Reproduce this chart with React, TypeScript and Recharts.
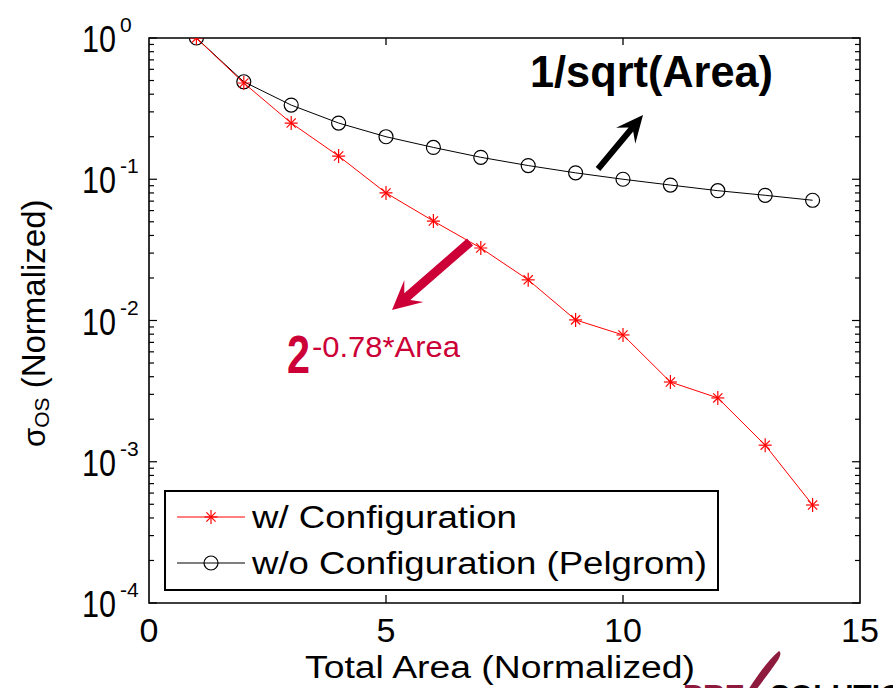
import React from "react";
import { LineChart, Line, XAxis, YAxis, ReferenceArea, Legend } from "recharts";

// total area (normalized) and sigma_OS (normalized)
const AREA = [1, 2, 3, 4, 5, 6, 7, 8, 9, 10, 11, 12, 13, 14];
const WITH_CONFIG = [1, 0.48, 0.25, 0.146, 0.08, 0.0506, 0.0326, 0.0194, 0.0101, 0.0079, 0.00367, 0.00283, 0.00131, 0.000494];
const PELGROM = [1, 0.49, 0.335, 0.25, 0.2, 0.168, 0.143, 0.125, 0.111, 0.1, 0.091, 0.083, 0.077, 0.071];

const X_TICKS = [0, 5, 10, 15];
const Y_DECADES = [1e-4, 1e-3, 1e-2, 1e-1, 1];
const Y_EXPONENTS = ["-4", "-3", "-2", "-1", "0"];
const MINOR_STEPS = [2, 3, 4, 5, 6, 7, 8, 9];

const SERIES = [
  { key: "withConfig", name: "w/ Configuration", color: "#ff0000", marker: "star", width: 265 },
  { key: "pelgrom", name: "w/o Configuration (Pelgrom)", color: "#000000", marker: "circle", width: 455 },
];

const rows = AREA.map((a, i) => ({ area: a, withConfig: WITH_CONFIG[i], pelgrom: PELGROM[i] }));
const yTicks = [
  ...Y_DECADES,
  ...Y_DECADES.slice(0, -1).flatMap((d) => MINOR_STEPS.map((m) => d * m)),
].sort((a, b) => a - b);

const W = 893;
const H = 688;
const PLOT = { left: 149, right: 860, top: 38, bottom: 603 };
const FONT = "'Liberation Sans', Arial, Helvetica, sans-serif";
const CRIMSON = "#cc0036";

function Star({ cx, cy, color }: { cx: number; cy: number; color: string }) {
  const d = 4.6;
  return (
    <g stroke={color} strokeWidth={1.2}>
      <line x1={cx - 6.5} x2={cx + 6.5} y1={cy} y2={cy} />
      <line x1={cx} x2={cx} y1={cy - 7} y2={cy + 7} />
      <line x1={cx - d} x2={cx + d} y1={cy - d} y2={cy + d} />
      <line x1={cx - d} x2={cx + d} y1={cy + d} y2={cy - d} />
    </g>
  );
}

function XTick(props: any) {
  const { x, payload } = props;
  const v = payload.value;
  const inner = v > X_TICKS[0] && v < X_TICKS[X_TICKS.length - 1];
  return (
    <g>
      {inner && <line x1={x} x2={x} y1={PLOT.bottom} y2={PLOT.bottom - 8} stroke="#000" strokeWidth={1.3} />}
      {inner && <line x1={x} x2={x} y1={PLOT.top} y2={PLOT.top + 7} stroke="#000" strokeWidth={1.3} />}
      <text x={x} y={642} textAnchor="middle" fontSize={34} fontFamily={FONT} fill="#000">
        {v}
      </text>
    </g>
  );
}

function YTick(props: any) {
  const { y, payload } = props;
  const v = payload.value;
  const idx = Y_DECADES.findIndex((d) => Math.abs(d - v) / d < 1e-6);
  const major = idx >= 0;
  const len = major ? 8 : 5;
  return (
    <g>
      <line x1={PLOT.left} x2={PLOT.left + len} y1={y} y2={y} stroke="#000" strokeWidth={1.2} />
      <line x1={PLOT.right - len} x2={PLOT.right} y1={y} y2={y} stroke="#000" strokeWidth={1.2} />
      {major && (
        <g fontFamily={FONT} fill="#000">
          <text x={82} y={y + 14} fontSize={37} textLength={34} lengthAdjust="spacingAndGlyphs">
            10
          </text>
          <text x={120} y={y - 6} fontSize={21}>
            {Y_EXPONENTS[idx]}
          </text>
        </g>
      )}
    </g>
  );
}

function LegendBox() {
  return (
    <svg width={555} height={101} style={{ display: "block" }}>
      <rect x={1} y={1} width={553} height={99} fill="#fff" stroke="#000" strokeWidth={2} />
      {SERIES.map((s, i) => {
        const cy = 27 + i * 46;
        return (
          <g key={s.key}>
            <line x1={13} x2={81} y1={cy} y2={cy} stroke={s.color} strokeWidth={1.2} />
            {s.marker === "star" ? (
              <Star cx={47} cy={cy} color={s.color} />
            ) : (
              <circle cx={47} cy={cy} r={7} fill="none" stroke={s.color} strokeWidth={1.2} />
            )}
            <text
              x={88}
              y={cy + 11}
              fontSize={31}
              fontFamily={FONT}
              fill="#000"
              textLength={s.width}
              lengthAdjust="spacingAndGlyphs"
            >
              {s.name}
            </text>
          </g>
        );
      })}
    </svg>
  );
}

function arrowPath(tail: number[], tip: number[], shaft: number, headLen: number, headHalf: number) {
  const dx = tip[0] - tail[0];
  const dy = tip[1] - tail[1];
  const len = Math.hypot(dx, dy);
  const ux = dx / len;
  const uy = dy / len;
  const px = -uy;
  const py = ux;
  const base = [tip[0] - ux * headLen, tip[1] - uy * headLen];
  const notch = [tip[0] - ux * headLen * 0.7, tip[1] - uy * headLen * 0.7];
  const pts = [
    [tail[0] + (px * shaft) / 2, tail[1] + (py * shaft) / 2],
    [notch[0] + (px * shaft) / 2, notch[1] + (py * shaft) / 2],
    [base[0] + px * headHalf, base[1] + py * headHalf],
    tip,
    [base[0] - px * headHalf, base[1] - py * headHalf],
    [notch[0] - (px * shaft) / 2, notch[1] - (py * shaft) / 2],
    [tail[0] - (px * shaft) / 2, tail[1] - (py * shaft) / 2],
  ];
  return "M" + pts.map((p) => p[0].toFixed(1) + "," + p[1].toFixed(1)).join("L") + "Z";
}

function Annotations() {
  return (
    <svg
      width={W}
      height={H}
      style={{ position: "absolute", left: 0, top: 0, pointerEvents: "none" }}
    >
      <text x={530} y={87} fontSize={44} fontWeight="bold" fontFamily={FONT} fill="#000" textLength={243} lengthAdjust="spacingAndGlyphs">
        1/sqrt(Area)
      </text>
      <path d={arrowPath([598, 169], [643, 115], 6, 27, 12.5)} fill="#000" />

      <path d={arrowPath([470, 242], [392, 310], 9, 29, 14.5)} fill={CRIMSON} />
      <text x={287} y={373} fontSize={54} fontWeight="bold" fontFamily={FONT} fill={CRIMSON} textLength={23} lengthAdjust="spacingAndGlyphs">
        2
      </text>
      <text x={312} y={357} fontSize={29} fontFamily={FONT} fill={CRIMSON} textLength={148} lengthAdjust="spacingAndGlyphs">
        -0.78*Area
      </text>

      {/* partial logo at the bottom edge */}
      <text x={683} y={705} fontSize={30} fontWeight="bold" fontFamily={FONT} fill="#8e1b3e">
        PRE
      </text>
      <path d="M748,690 C758,675 768,660 779,651 C781,652 781,655 778,660 C770,672 762,682 756,690 Z" fill="#8e1b3e" />
      <text x={770} y={705} fontSize={30} fontWeight="bold" fontFamily={FONT} fill="#000">
        SOLUTIONS
      </text>
    </svg>
  );
}

export default function App() {
  return (
    <div
      style={{
        position: "absolute",
        left: 0,
        top: 0,
        width: W,
        height: H,
        overflow: "hidden",
        background: "#fff",
      }}
    >
      <LineChart
        width={W}
        height={H}
        data={rows}
        margin={{ top: PLOT.top, right: W - PLOT.right, bottom: H - PLOT.bottom - 50, left: 0 }}
      >
        <XAxis
          dataKey="area"
          type="number"
          domain={[0, 15]}
          ticks={X_TICKS}
          interval={0}
          height={50}
          axisLine={false}
          tickLine={false}
          tick={(p: any) => <XTick {...p} />}
          label={{
            content: () => (
              <text
                x={305}
                y={678}
                fontSize={31}
                fontFamily={FONT}
                fill="#000"
                textLength={390}
                lengthAdjust="spacingAndGlyphs"
              >
                Total Area (Normalized)
              </text>
            ),
          }}
        />
        <YAxis
          type="number"
          scale="log"
          domain={[1e-4, 1]}
          allowDataOverflow
          ticks={yTicks}
          interval={0}
          width={PLOT.left}
          axisLine={false}
          tickLine={false}
          tick={(p: any) => <YTick {...p} />}
          label={{
            content: () => (
              <text transform="rotate(-90 45 447)" x={45} y={447} fontFamily={FONT} fill="#000">
                <tspan fontSize={31}>σ</tspan>
                <tspan fontSize={21} dy={4}>OS</tspan>
                <tspan fontSize={33} dy={-4}> (Normalized)</tspan>
              </text>
            ),
          }}
        />
        <ReferenceArea
          x1={0}
          x2={15}
          y1={1e-4}
          y2={1}
          fill="none"
          stroke="#000"
          strokeWidth={1.6}
          ifOverflow="visible"
        />
        <Line
          dataKey="pelgrom"
          stroke="#000"
          strokeWidth={1}
          dot={{ r: 7, fill: "none", stroke: "#000", strokeWidth: 1.2 }}
          activeDot={false}
          isAnimationActive={false}
        />
        <Line
          dataKey="withConfig"
          stroke="#ff0000"
          strokeWidth={1}
          dot={(p: any) => <Star key={p.index} cx={p.cx} cy={p.cy} color="#ff0000" />}
          activeDot={false}
          isAnimationActive={false}
        />
        <Legend
          layout="horizontal"
          verticalAlign="middle"
          align="center"
          wrapperStyle={{ left: 164, top: 490, width: 555, height: 101 }}
          content={() => <LegendBox />}
        />
      </LineChart>
      <Annotations />
    </div>
  );
}
